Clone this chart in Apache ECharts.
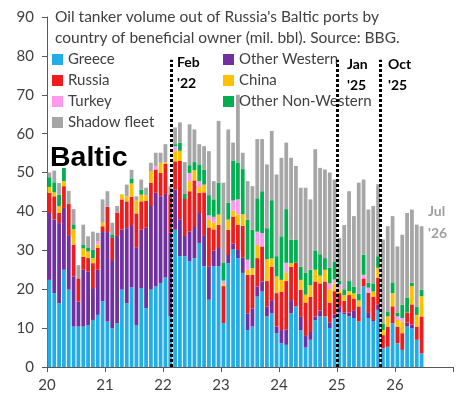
<!DOCTYPE html>
<html>
<head>
<meta charset="utf-8">
<script src="https://cdn.jsdelivr.net/npm/echarts@6/dist/echarts.min.js"></script>
<style>
html,body{margin:0;padding:0;background:#fff;}
#chart{width:457px;height:400px;}
</style>
</head>
<body>
<div id="chart"></div>
<script>
// monthly, Jan 2020 .. Jun 2026 (mil. bbl)
var years = [2020, 2021, 2022, 2023, 2024, 2025, 2026];
var monthNames = ['Jan','Feb','Mar','Apr','May','Jun','Jul','Aug','Sep','Oct','Nov','Dec'];
var yearLabels = ['20','21','22','23','24','25','26'];

var greece = [22.4,19,16.4,25,19.9,10.4,10.4,10.4,10.8,12.1,13.4,16.9,
  11.7,10,11.3,19.9,16.4,20.5,10.8,20.3,15.1,19.9,20.7,21.6,
  23,13,35.3,28.5,28.5,27.2,28,31.9,25.9,17.3,25.9,25.9,
  11.3,26.7,30.2,28,24.2,9.5,10.4,18.1,19.4,13,13.8,8.7,
  6.1,5.7,13.8,15.6,9.5,5,7,12,13,13,10,12.5,
  14,13.5,13,12.6,11.7,20.7,12.6,11.7,14.7,4.8,5.2,11.3,
  6.1,4.4,10.4,10,7,3.5];
var otherWestern = [17.2,18.9,20.6,15.9,13.8,12.9,6.4,14.6,13.8,8.2,11.6,17.8,
  23,17.5,22.4,15.5,19.3,16,20,15,20.7,21.5,24.1,22.3,
  21.5,21.5,10.3,9.5,5.2,7.7,8,7.7,8,8.6,4,4.7,
  0,2.1,1.5,2.1,3.9,4.3,4.7,2.6,2.6,2.6,3.4,1.7,
  3.4,3.9,3.4,0,3.4,3,2,1,1.5,0,1.5,1,
  1.5,0.5,1,2,0,0,1.3,0.4,1.3,0,0,0,
  0,0,1,0.9,0,0];
var russia = [5.2,6,2.6,5.6,8.2,8.2,6,3.4,3.4,6.4,5.6,1.5,
  6.5,5.7,6,7.7,6.9,7.3,8.7,7.3,7,6,6,6,
  7.7,9.9,7.3,15,9.5,10.3,12,5.2,11,10,5.5,6,
  9.5,6.5,7,6.5,8.2,9.9,8.6,7.3,9,6.5,8.6,8.6,
  9.9,12.5,8.6,11.2,6.9,8.6,9,9,7,9,5,6,
  3.5,3,4.5,3,3.9,2.1,5.2,6,6.9,3.4,5.2,4.3,
  4.3,4.3,2.6,5.2,3.4,9.5];
var china = [1.5,1,1.7,1.3,0,3.9,0,2.1,1.7,1.3,0.9,0.9,
  0,0,0,1.3,1.3,3.4,3.4,1.7,1.3,3,0,2.6,
  0.4,0,2.6,2.6,0,2.6,2.6,1.5,2,2.1,1.7,2.6,
  0.5,2.6,1.5,2.6,3,1.3,1.7,3.4,0,5.6,2.1,4.3,
  3,2.1,0.9,0,2.6,2,3,3,2,3,3.5,2,
  1,1.5,1,1.3,1.5,0,0,1.3,2.6,1.3,2.6,3.4,
  1.7,3,0,4.7,3,5.2];
var turkey = [0,0,0,0,0,0,0,0,0,0,0.9,0,
  0,0,0,0,0,0,0,0,0,0,0.9,0,
  0,0,1.3,0,0,2.1,0,1.5,0,1,1.5,0,
  0.9,0,2.6,3.9,0,2.6,0,3.4,3.4,0,0,0,
  0,2.6,0,0,0,0,0,0,0,0,1.5,1,
  1.2,0,0,0,0,0.9,1.3,0,0,0,0,0,
  0.9,0.9,0,0,0,0];
var otherNonWestern = [2.5,2.6,3,3.4,0,1.3,0,0.9,0.9,2.1,0,0,
  0,0.9,0,0,0,1.3,0,1.3,0,0,0,0,
  0,0,0.5,2.1,1.3,2,2.1,4.3,3.9,5.2,4.5,8.2,
  4.7,4.3,10.3,9.5,11.6,10.3,9.9,8.6,10.8,8,15,5.2,
  11.2,13.8,6,6,3.4,5.6,4,5,5.5,3,4,4.5,
  1,1.5,2.6,1.7,1.7,5.2,1.3,2.1,3,1.7,1.3,2.6,
  0.9,3.4,3.9,0.9,2.1,1.7];
var shadowFleet = [1.2,3,3,0,3.4,3.9,3.4,5.2,3,4.7,2.1,6,
  4,3,1.7,0,3,2.2,1,2.6,2,2.1,3.4,2.6,
  4.7,2.1,4.3,5.2,8.2,10.5,8.4,5.2,6,11.3,4.7,15.9,
  20.5,18.9,4.6,17.4,4.2,9.9,11.2,15.2,13.4,16.4,17.8,21,
  20.2,17.1,21.1,18.9,20.3,21.9,18.1,26,22.2,22.8,24.5,21.2,
  11,16.5,23.1,18.2,28.6,19.3,18.8,19.9,18.5,21.6,21.9,17.2,
  17.1,18,21.7,18.8,21.1,16.3];

// Feb '22, Jan '25, Oct '25 on the year axis
var eventX = [22.15, 25.0, 25.75];
var eventTop = 79;

var months = [];
years.forEach(function(y){
	monthNames.forEach(function(m){ months.push(m + ' ' + y); });
});

var colors = {
	'Greece':'#22ade6',
	'Other Western':'#7030a0',
	'Russia':'#ee1c1c',
	'China':'#ffc000',
	'Turkey':'#ff99ee',
	'Other Non-Western':'#00b050',
	'Shadow fleet':'#a6a6a6'
};
var seriesData = [
	['Greece', greece],
	['Other Western', otherWestern],
	['Russia', russia],
	['China', china],
	['Turkey', turkey],
	['Other Non-Western', otherNonWestern],
	['Shadow fleet', shadowFleet]
];

var series = seriesData.map(function(s){
	return {
		name: s[0],
		type: 'bar',
		stack: 'total',
		xAxisIndex: 0,
		barCategoryGap: '22%',
		itemStyle: {color: colors[s[0]]},
		data: s[1]
	};
});
series.push({
	name: 'events',
	type: 'line',
	xAxisIndex: 1,
	data: [],
	silent: true,
	z: 5,
	markLine: {
		symbol: ['none','none'],
		silent: true,
		label: {show: false},
		lineStyle: {color: '#000', type: [3,2], width: 3},
		data: eventX.map(function(x){ return [{coord:[x,0]},{coord:[x,eventTop]}]; })
	}
});

var font = 'Lato';
var txt = '#404040';
var myChart = echarts.init(document.getElementById('chart'));
var option = {
	animation: false,
	textStyle: {fontFamily: font},
	grid: {left: 47, right: 4, top: 17, bottom: 33},
	title: {
		text: "Oil tanker volume out of Russia's Baltic ports by\ncountry of beneficial owner (mil. bbl). Source: BBG.",
		left: 55, top: 6, padding: 0,
		textStyle: {fontFamily: font, fontSize: 15.5, fontWeight: 'normal', color: txt, lineHeight: 21}
	},
	legend: [{
		data: ['Greece','Russia','Turkey','Shadow fleet'],
		orient: 'vertical', left: 52, top: 52, itemGap: 6,
		itemWidth: 11, itemHeight: 11, icon: 'rect', padding: 0,
		textStyle: {fontFamily: font, fontSize: 15, color: txt}
	}, {
		data: ['Other Western','China','Other Non-Western'],
		orient: 'vertical', left: 223, top: 52, itemGap: 6,
		itemWidth: 11, itemHeight: 11, icon: 'rect', padding: 0,
		textStyle: {fontFamily: font, fontSize: 15, color: txt}
	}],
	xAxis: [{
		type: 'category', data: months, show: false
	}, {
		type: 'value', min: 20, max: 27, interval: 1, position: 'bottom',
		axisLine: {show: true, lineStyle: {color: '#595959'}},
		axisTick: {show: true, length: 5, lineStyle: {color: '#595959'}},
		splitLine: {show: false},
		axisLabel: {
			fontSize: 15, color: txt, margin: 11,
			formatter: function(v){ return yearLabels[v - 20] || ''; }
		}
	}],
	yAxis: {
		type: 'value', min: 0, max: 90, interval: 10,
		axisLine: {show: true, lineStyle: {color: '#595959'}},
		axisTick: {show: true, length: 5, lineStyle: {color: '#595959'}},
		splitLine: {show: false},
		axisLabel: {fontSize: 15, color: txt, margin: 13}
	},
	graphic: [
		{type:'text', left: 50, top: 144, z: 10, style:{text:'Baltic', font:'bold 28.5px "Liberation Sans"', fill:'#000'}},
		{type:'text', left: 177, top: 52, style:{text:"Feb\n'22", font:'bold 14px Lato', fill:'#000', lineHeight: 21}},
		{type:'text', left: 347, top: 54, style:{text:"Jan\n'25", font:'bold 14px Lato', fill:'#000', lineHeight: 21}},
		{type:'text', left: 388, top: 54, style:{text:"Oct\n'25", font:'bold 14px Lato', fill:'#000', lineHeight: 21}},
		{type:'text', left: 428, top: 200, style:{text:"Jul\n'26", font:'bold 14px Lato', fill:'#a0a0a0', lineHeight: 22}}
	],
	series: series
};
myChart.setOption(option);
</script>
</body>
</html>
